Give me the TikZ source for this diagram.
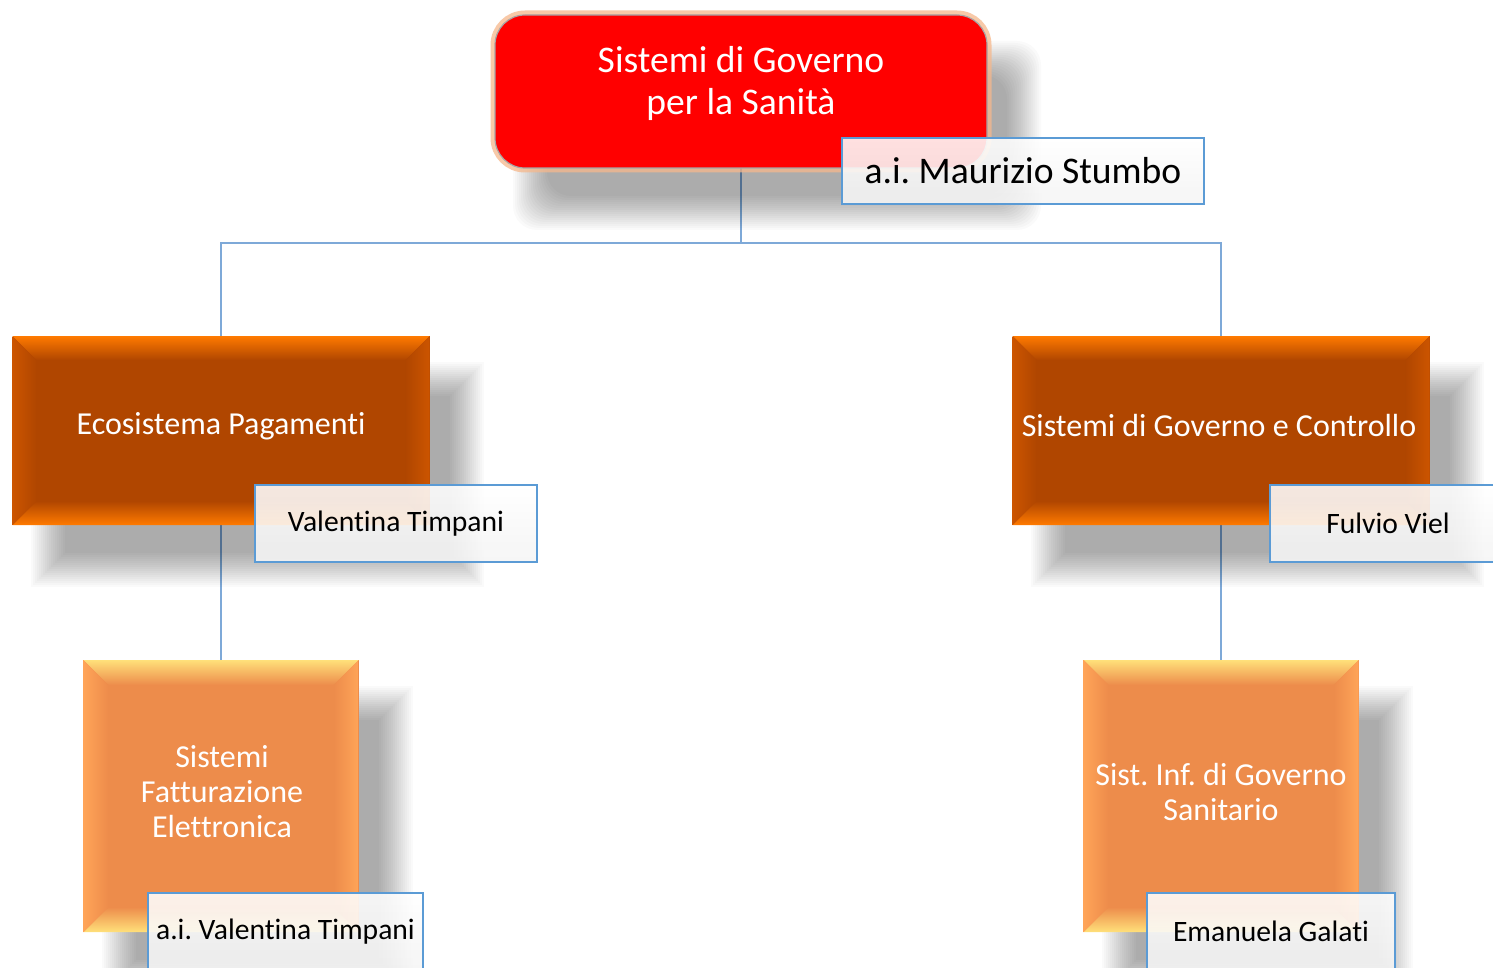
\documentclass[tikz,border=0pt]{standalone}
\usepackage{fontspec}
\setmainfont{Carlito}[Ligatures={NoCommon}]
\usetikzlibrary{calc}
\frenchspacing
\definecolor{redbox}{HTML}{FF0000}
\definecolor{lvtwo}{HTML}{B04600}
\definecolor{lvtwotop}{HTML}{FF7A00}
\definecolor{lvtwoside}{HTML}{CC5500}
\definecolor{lvthree}{HTML}{ED8C4B}
\definecolor{lvthreetop}{HTML}{FFE07A}
\definecolor{lvthreeside}{HTML}{FFA458}
\definecolor{namebord}{HTML}{5B9BD5}
\definecolor{connc}{HTML}{7EA9D8}
\definecolor{glowc}{HTML}{F6B88C}
\newcommand\mymidfont{\fontsize{16}{17.5}\selectfont}
\newcommand\mynamefont{\fontsize{14.8}{17}\selectfont}
\newcommand\mybigfont{\fontsize{18.8}{21}\selectfont}
\newcommand\bevelfx[7]{%
 \shade[top color=#3,bottom color=#7] (#1.north west) -- (#1.north east) -- ($(#1.north east)+(-#2,#2)$) -- ($(#1.north west)+(#2,#2)$) -- cycle;
 \shade[top color=#7,bottom color=#5] (#1.south west) -- (#1.south east) -- ($(#1.south east)+(-#2,-#2)$) -- ($(#1.south west)+(#2,-#2)$) -- cycle;
 \shade[left color=#4,right color=#7] (#1.north west) -- (#1.south west) -- ($(#1.south west)+(#2,-#2)$) -- ($(#1.north west)+(#2,#2)$) -- cycle;
 \shade[left color=#7,right color=#6] (#1.north east) -- (#1.south east) -- ($(#1.south east)+(-#2,-#2)$) -- ($(#1.north east)+(-#2,#2)$) -- cycle;
}
\newcommand\softshadow[2][0pt]{%
 \foreach \k in {0,...,17}{%
   \pgfmathsetmacro\ee{18-2*\k}%
   \fill[black,opacity=0.02,rounded corners=#1] ($(#2.north west)+(36-\ee,44-\ee)$) rectangle ($(#2.south east)+(36+\ee,44+\ee)$);
 }%
}
\pgfdeclarelayer{bg}
\pgfdeclarelayer{shadowlayer}
\pgfsetlayers{bg,shadowlayer,main}
\begin{document}
\begin{tikzpicture}[x=0.5pt,y=-0.5pt,
 bx/.style={rectangle,inner sep=0pt,outer sep=0pt,draw=none},
 lvtwobox/.style={bx,fill=lvtwo,minimum width=208.5pt,minimum height=94.5pt},
 lvthreebox/.style={bx,fill=lvthree,minimum width=137.5pt,minimum height=136pt},
 namebox/.style={rectangle,inner sep=0pt,outer sep=0pt,draw=namebord,line width=1.2pt,top color=white,bottom color=black!4,fill opacity=0.88,text opacity=1,minimum height=38.5pt,font=\mynamefont},
 whitetxt/.style={text=white,align=center,inner sep=0pt,font=\mymidfont},
 conn/.style={draw=connc,line width=0.8pt}]
\useasboundingbox (0,0) rectangle (1493,968);
\begin{pgfonlayer}{bg}
\fill[white] (0,0) rectangle (1493,968);
\end{pgfonlayer}

% top box
\node[bx,rounded corners=15pt,minimum width=246pt,minimum height=76.5pt,
  preaction={draw=glowc,line width=4.5pt,opacity=0.75},
  fill=redbox,draw=black!35,line width=0.6pt] (top) at (741,91.5) {};

% level 2
\node[lvtwobox] (eco) at (221,430.5) {};
\bevelfx{eco}{24}{lvtwotop}{lvtwoside}{lvtwotop}{lvtwoside}{lvtwo}
\node[lvtwobox] (sgc) at (1221,430.5) {};
\bevelfx{sgc}{24}{lvtwotop}{lvtwoside}{lvtwotop}{lvtwoside}{lvtwo}

% level 3
\node[lvthreebox] (sfe) at (221,796) {};
\bevelfx{sfe}{25}{lvthreetop}{lvthreeside}{lvthreetop}{lvthreeside}{lvthree}
\node[lvthreebox] (sig) at (1221,796) {};
\bevelfx{sig}{25}{lvthreetop}{lvthreeside}{lvthreetop}{lvthreeside}{lvthree}

% shadows
\begin{pgfonlayer}{shadowlayer}
\softshadow[12pt]{top}
\softshadow{eco}
\softshadow{sgc}
\softshadow{sfe}
\softshadow{sig}
\end{pgfonlayer}

% connectors
\begin{pgfonlayer}{bg}
\coordinate (j) at (741,243);
\draw[conn] (top.south) -- (j);
\draw[conn] (j) -| (eco.north);
\draw[conn] (j) -| (sgc.north);
\draw[conn] (eco.south) -- (sfe.north);
\draw[conn] (sgc.south) -- (sig.north);
\end{pgfonlayer}

% texts
\node[whitetxt,font=\mybigfont] (toplbl) at (741,83) {Sistemi di Governo\\per la Sanità};
\node[whitetxt] (ecolbl) at (221,426) {Ecosistema Pagamenti};
\node[whitetxt] (sgclbl) at (1219,426) {Sistemi di Governo e Controllo};
\node[whitetxt] (sfelbl) at (222,792) {Sistemi\\Fatturazione\\Elettronica};
\node[whitetxt] (siglbl) at (1221,792) {Sist. Inf. di Governo\\Sanitario};

% name boxes
\node[namebox,minimum width=181pt,minimum height=33pt,font=\mybigfont] (topname) at (1023,171) {a.i. Maurizio Stumbo};
\node[namebox,minimum width=141pt] (econame) at (396,523.5) {Valentina Timpani};
\node[namebox,minimum width=118pt] (sgcname) at (1388,523.5) {Fulvio Viel};
\node[namebox,minimum width=137.5pt] (sfename) at (285.5,931.5) {a.i. Valentina Timpani};
\node[namebox,minimum width=124pt] (signame) at (1271,931.5) {Emanuela Galati};
\end{tikzpicture}
\end{document}
